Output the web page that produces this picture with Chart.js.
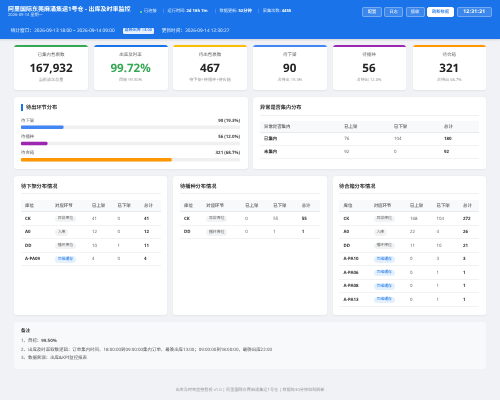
<!DOCTYPE html>
<html lang="zh"><head><meta charset="utf-8">
<script src="https://cdn.jsdelivr.net/npm/chart.js@4"></script>
<style>
*{box-sizing:border-box;margin:0;padding:0}
html,body{width:500px;height:400px;overflow:hidden;background:#f0f2f5;font-family:"Noto Sans","Noto Sans CJK SC",sans-serif;color:#333;text-rendering:geometricPrecision}
#root{position:absolute;left:0;top:0;width:500px;height:400px;filter:blur(.28px)}
.a{position:absolute;white-space:nowrap;line-height:1}
#hdr{position:absolute;left:0;top:0;width:500px;height:38.5px;background:#1a73e8;box-shadow:0 1px 2px rgba(0,0,0,.12)}
.w{color:#fff}
.st{top:9.9px;font-size:4.2px;color:#e3eefd}
.sp{top:9.9px;font-size:4.2px;color:#8fbaf5}
.btn{position:absolute;top:6.7px;height:10.6px;border:.5px solid rgba(255,255,255,.3);background:rgba(255,255,255,.15);border-radius:2px;color:#fff;font-size:4.3px;display:flex;align-items:center;justify-content:center}
.card{position:absolute;top:45.3px;height:44.7px;background:#fff;border-radius:3px;box-shadow:0 .5px 2px rgba(0,0,0,.06);text-align:center;overflow:hidden}
.card .t{position:absolute;left:0;right:0;top:0;height:1.5px}
.card .l{position:absolute;left:0;right:0;top:8.2px;font-size:4.5px;color:#666;line-height:1}
.card .v{position:absolute;left:0;right:0;top:18px;font-size:11.6px;font-weight:700;line-height:1;color:#222}
.card .s{position:absolute;left:0;right:0;top:33.3px;font-size:4.1px;color:#999;line-height:1}
.panel{position:absolute;background:#fff;border-radius:3px;box-shadow:0 .5px 2px rgba(0,0,0,.05)}
.pt{position:absolute;font-size:5.2px;font-weight:700;color:#333;line-height:1;white-space:nowrap}
.rule{position:absolute;height:.5px;background:#f0f0f0}
.tb{position:absolute}
.hd{position:absolute;left:0;right:0;background:#f8f9fa;border-bottom:.6px solid #e8eaed}
.row{position:absolute;left:0;right:0;border-bottom:.5px solid #f2f2f2}
.c{position:absolute;white-space:nowrap;line-height:1;font-size:4.4px;color:#666}
.c.h{color:#555;font-weight:500}
.c.b{font-weight:700;color:#333}
.bd{position:absolute;white-space:nowrap;font-size:3.9px;line-height:1;padding:1.4px 2.7px;border-radius:3.4px;background:#f1f3f4;color:#666}
.bd.blue{background:#e3f0fd;color:#1a73e8}
#notes{position:absolute;left:14px;top:322.3px;width:472px;height:46.7px;background:#f8f9fa;border-radius:3px}
.nl{left:7px;font-size:4.45px;color:#555}
#chartBox{position:absolute;left:21px;top:118.5px;width:219px;height:49px}
</style></head><body><div id="root">
<div id="hdr">
<div class="a w" style="left:8px;top:6.3px;font-size:6px;font-weight:700">阿里国际东莞麻涌集运1号仓 - 出库及时率监控</div>
<div class="a" style="left:8px;top:14px;font-size:4.1px;color:#d5e5fb">2026-09-14 星期一</div>
<div class="a" style="left:140px;top:10.8px;width:2.4px;height:2.4px;border-radius:50%;background:#5ff08a"></div>
<div class="a st" style="left:144px">已连接</div>
<div class="a sp" style="left:162px">|</div>
<div class="a st" style="left:167.5px">运行时间: <b style="color:#fff">2d 16h 7m</b></div>
<div class="a sp" style="left:214px">|</div>
<div class="a st" style="left:219.5px">数据更新: <b style="color:#fff">52分钟</b></div>
<div class="a sp" style="left:257px">|</div>
<div class="a st" style="left:262.7px">采集次数: <b style="color:#fff">4455</b></div>
<div class="btn" style="left:362.3px;width:19.4px">配置</div>
<div class="btn" style="left:384px;width:19px">日志</div>
<div class="btn" style="left:405.5px;width:19px">揽收</div>
<div class="btn" style="left:427px;width:27px;background:#fff;color:#1a73e8;font-weight:500;border-color:#fff">刷新数据</div>
<div class="btn" style="left:457px;width:34.7px;font-size:5px;font-weight:700;letter-spacing:.3px">12:31:21</div>
<div class="a" style="left:10.7px;top:29px;font-size:4.7px;color:#e8f0fe">统计窗口：2026-09-13 18:00 ~ 2026-09-14 09:00</div>
<div class="a" style="left:122.7px;top:28px;width:31.3px;height:6.2px;background:#e8f0fe;border-radius:1.2px;color:#1a73e8;font-size:4px;display:flex;align-items:center;justify-content:center;font-weight:500">最晚出库 13:00</div>
<div class="a" style="left:161.7px;top:29px;font-size:4.7px;color:#e8f0fe">更新时间：2026-09-14 12:30:27</div>
</div>
<div id="cards"></div>
<div class="panel" style="left:14px;top:97.3px;width:234px;height:71.7px"></div>
<div class="a" style="left:21px;top:104px;width:1.5px;height:7px;background:#1a73e8"></div>
<div class="pt" style="left:26px;top:105.4px">待出环节分布</div>
<div id="barLabels"></div>
<div id="chartBox"><canvas id="c"></canvas></div>
<div class="panel" style="left:253px;top:97.3px;width:233px;height:71.7px"></div>
<div class="pt" style="left:260px;top:105.4px">异常是否集内分布</div>
<div class="rule" style="left:260px;top:115px;width:219px"></div>
<div class="panel" style="left:14px;top:176px;width:153px;height:138.5px"></div>
<div class="panel" style="left:173.3px;top:176px;width:153.4px;height:138.5px"></div>
<div class="panel" style="left:333px;top:176px;width:153px;height:138.5px"></div>
<div id="tables"></div>
<div id="notes">
<div class="a" style="left:7px;top:6.4px;font-size:4.6px;font-weight:700;color:#333">备注</div>
<div class="a nl" style="top:17.1px">1、目标：<b>99.50%</b></div>
<div class="a nl" style="top:25.8px">2、出库及时率取数逻辑：订单集内时间、18:00:00到09:00:00集内订单，最晚出库13:00；09:00:00到18:00:00，最晚出库22:00</div>
<div class="a nl" style="top:34.1px">3、数据来源：出库&amp;KPI监控报表</div>
</div>
<div class="a" style="left:0;width:500px;text-align:center;top:389px;font-size:4.15px;color:#999">出库及时率监控看板 v1.0 | 阿里国际东莞麻涌集运1号仓 | 数据每30分钟自动刷新</div>
</div>
<script>
// ---- data ----
const cardLabels=['已集内包裹数','出库及时率','待出包裹数','待下架','待播种','待合箱'];
const cardValues=['167,932','99.72%','467','90','56','321'];
const cardNotes=['当前波次总量','目标 99.50%','待下架+待播种+待合箱','占待出 19.3%','占待出 12.0%','占待出 68.7%'];
const stageLabels=['待下架','待播种','待合箱'];
const stageCounts=[90,56,321];
const stageShares=[19.3,12.0,68.7];
const trackValues=[100,100,100];
const tableColumns=['库位','对应环节','已上架','已下架','总计'];
const exceptionColumns=['异常是否集内','已上架','已下架','总计'];
const exceptionRows=[['已集内',76,104,180],['未集内',92,0,92]];
const shelfRows=[['CK','异常库位',41,0,41],['A0','入库',12,0,12],['DD','播环库位',10,1,11],['A-PA09','三维缓存',4,0,4]];
const seedRows=[['CK','异常库位',0,55,55],['DD','播环库位',0,1,1]];
const mergeRows=[['CK','异常库位',168,104,272],['A0','入库',22,4,26],['DD','播环库位',11,10,21],['A-PA10','三维缓存',0,3,3],['A-PA06','三维缓存',0,1,1],['A-PA08','三维缓存',0,1,1],['A-PA13','三维缓存',0,1,1]];
// ---- style ----
const cardX=[14,93.5,173,253,332.5,412.5], cardW=[74,74,74,73.5,73,73.5];
const cardColors=['#34a853','#1a73e8','#fbbc04','#4285f4','#9c27b0','#ff9800'];
const stageColors=['#4285f4','#9c27b0','#ff9800'];
const el=(h)=>{const d=document.createElement('div');d.innerHTML=h;return d.firstChild};
const cards=document.getElementById('cards');
cardLabels.forEach((l,i)=>{
 const col=i===1?'color:#34a853':'';
 cards.appendChild(el(`<div class="card" style="left:${cardX[i]}px;width:${cardW[i]}px"><div class="t" style="background:${cardColors[i]}"></div><div class="l">${l}</div><div class="v" style="${col}">${cardValues[i]}</div><div class="s">${cardNotes[i]}</div></div>`));
});
const bl=document.getElementById('barLabels');
const labelY=[118.5,134.8,151.1];
stageLabels.forEach((l,i)=>{
 bl.appendChild(el(`<div class="a" style="left:21px;top:${labelY[i]}px;font-size:4.4px;color:#666">${l}</div>`));
 bl.appendChild(el(`<div class="a" style="right:260px;top:${labelY[i]}px;font-size:4.4px;font-weight:700;color:#444">${stageCounts[i]} (${stageShares[i].toFixed(1)}%)</div>`));
});
function table(host,x,w,top,hh,rh,colX,cols,rows,badgeCol,totalCol){
 const t=document.createElement('div');t.className='tb';t.style.cssText=`left:${x}px;top:${top}px;width:${w}px`;
 t.appendChild(el(`<div class="hd" style="top:0;height:${hh}px"></div>`));
 cols.forEach((c,i)=>t.appendChild(el(`<div class="c h" style="left:${colX[i]}px;top:${hh/2-2.2}px">${c}</div>`)));
 rows.forEach((r,ri)=>{
  const y=hh+rh*ri;
  t.appendChild(el(`<div class="row" style="top:${y}px;height:${rh}px"></div>`));
  r.forEach((v,i)=>{
   if(i===badgeCol){
    const cls=v==='三维缓存'?'bd blue':'bd';
    t.appendChild(el(`<div class="${cls}" style="left:${colX[i]}px;top:${y+rh/2-3.35}px">${v}</div>`));
   }else{
    const b=(i===0||i===totalCol)?' b':'';
    t.appendChild(el(`<div class="c${b}" style="left:${colX[i]}px;top:${y+rh/2-2.2}px">${v}</div>`));
   }
  });
 });
 host.appendChild(t);
}
const host=document.getElementById('tables');
table(host,260,219,120.7,12.6,12.8,[4,84.3,134,184],exceptionColumns,exceptionRows,-1,3);
const titles=[['待下架分布情况',21],['待播种分布情况',180],['待合箱分布情况',339]];
titles.forEach(([t,x])=>{
 host.appendChild(el(`<div class="pt" style="left:${x}px;top:184px">${t}</div>`));
 host.appendChild(el(`<div class="rule" style="left:${x}px;top:193.2px;width:140px"></div>`));
});
table(host,21,140,199.7,12.6,13.5,[4,34,71,96.5,123],tableColumns,shelfRows,1,4);
table(host,180,140,199.7,12.6,13.5,[4,26.3,65.3,93.3,121.7],tableColumns,seedRows,1,4);
table(host,339,140,199.7,12.6,13.5,[4.5,34.7,71,97.5,124],tableColumns,mergeRows,1,4);
// ---- chart ----
new Chart(document.getElementById('c'),{
 type:'bar',
 data:{labels:stageLabels,datasets:[
  {label:'占比',data:stageShares,backgroundColor:stageColors,barThickness:2.8,borderRadius:1.4,borderSkipped:false,order:1,grouped:false},
  {label:'总量',data:trackValues,backgroundColor:'#f0f0f0',barThickness:2.8,borderRadius:1.4,borderSkipped:false,order:2,grouped:false}
 ]},
 options:{indexAxis:'y',responsive:true,maintainAspectRatio:false,animation:false,
  layout:{padding:0},
  plugins:{legend:{display:false},tooltip:{enabled:false}},
  scales:{x:{display:false,min:0,max:100,grid:{display:false}},y:{display:false,grid:{display:false}}}}
});
</script>
</body></html>
